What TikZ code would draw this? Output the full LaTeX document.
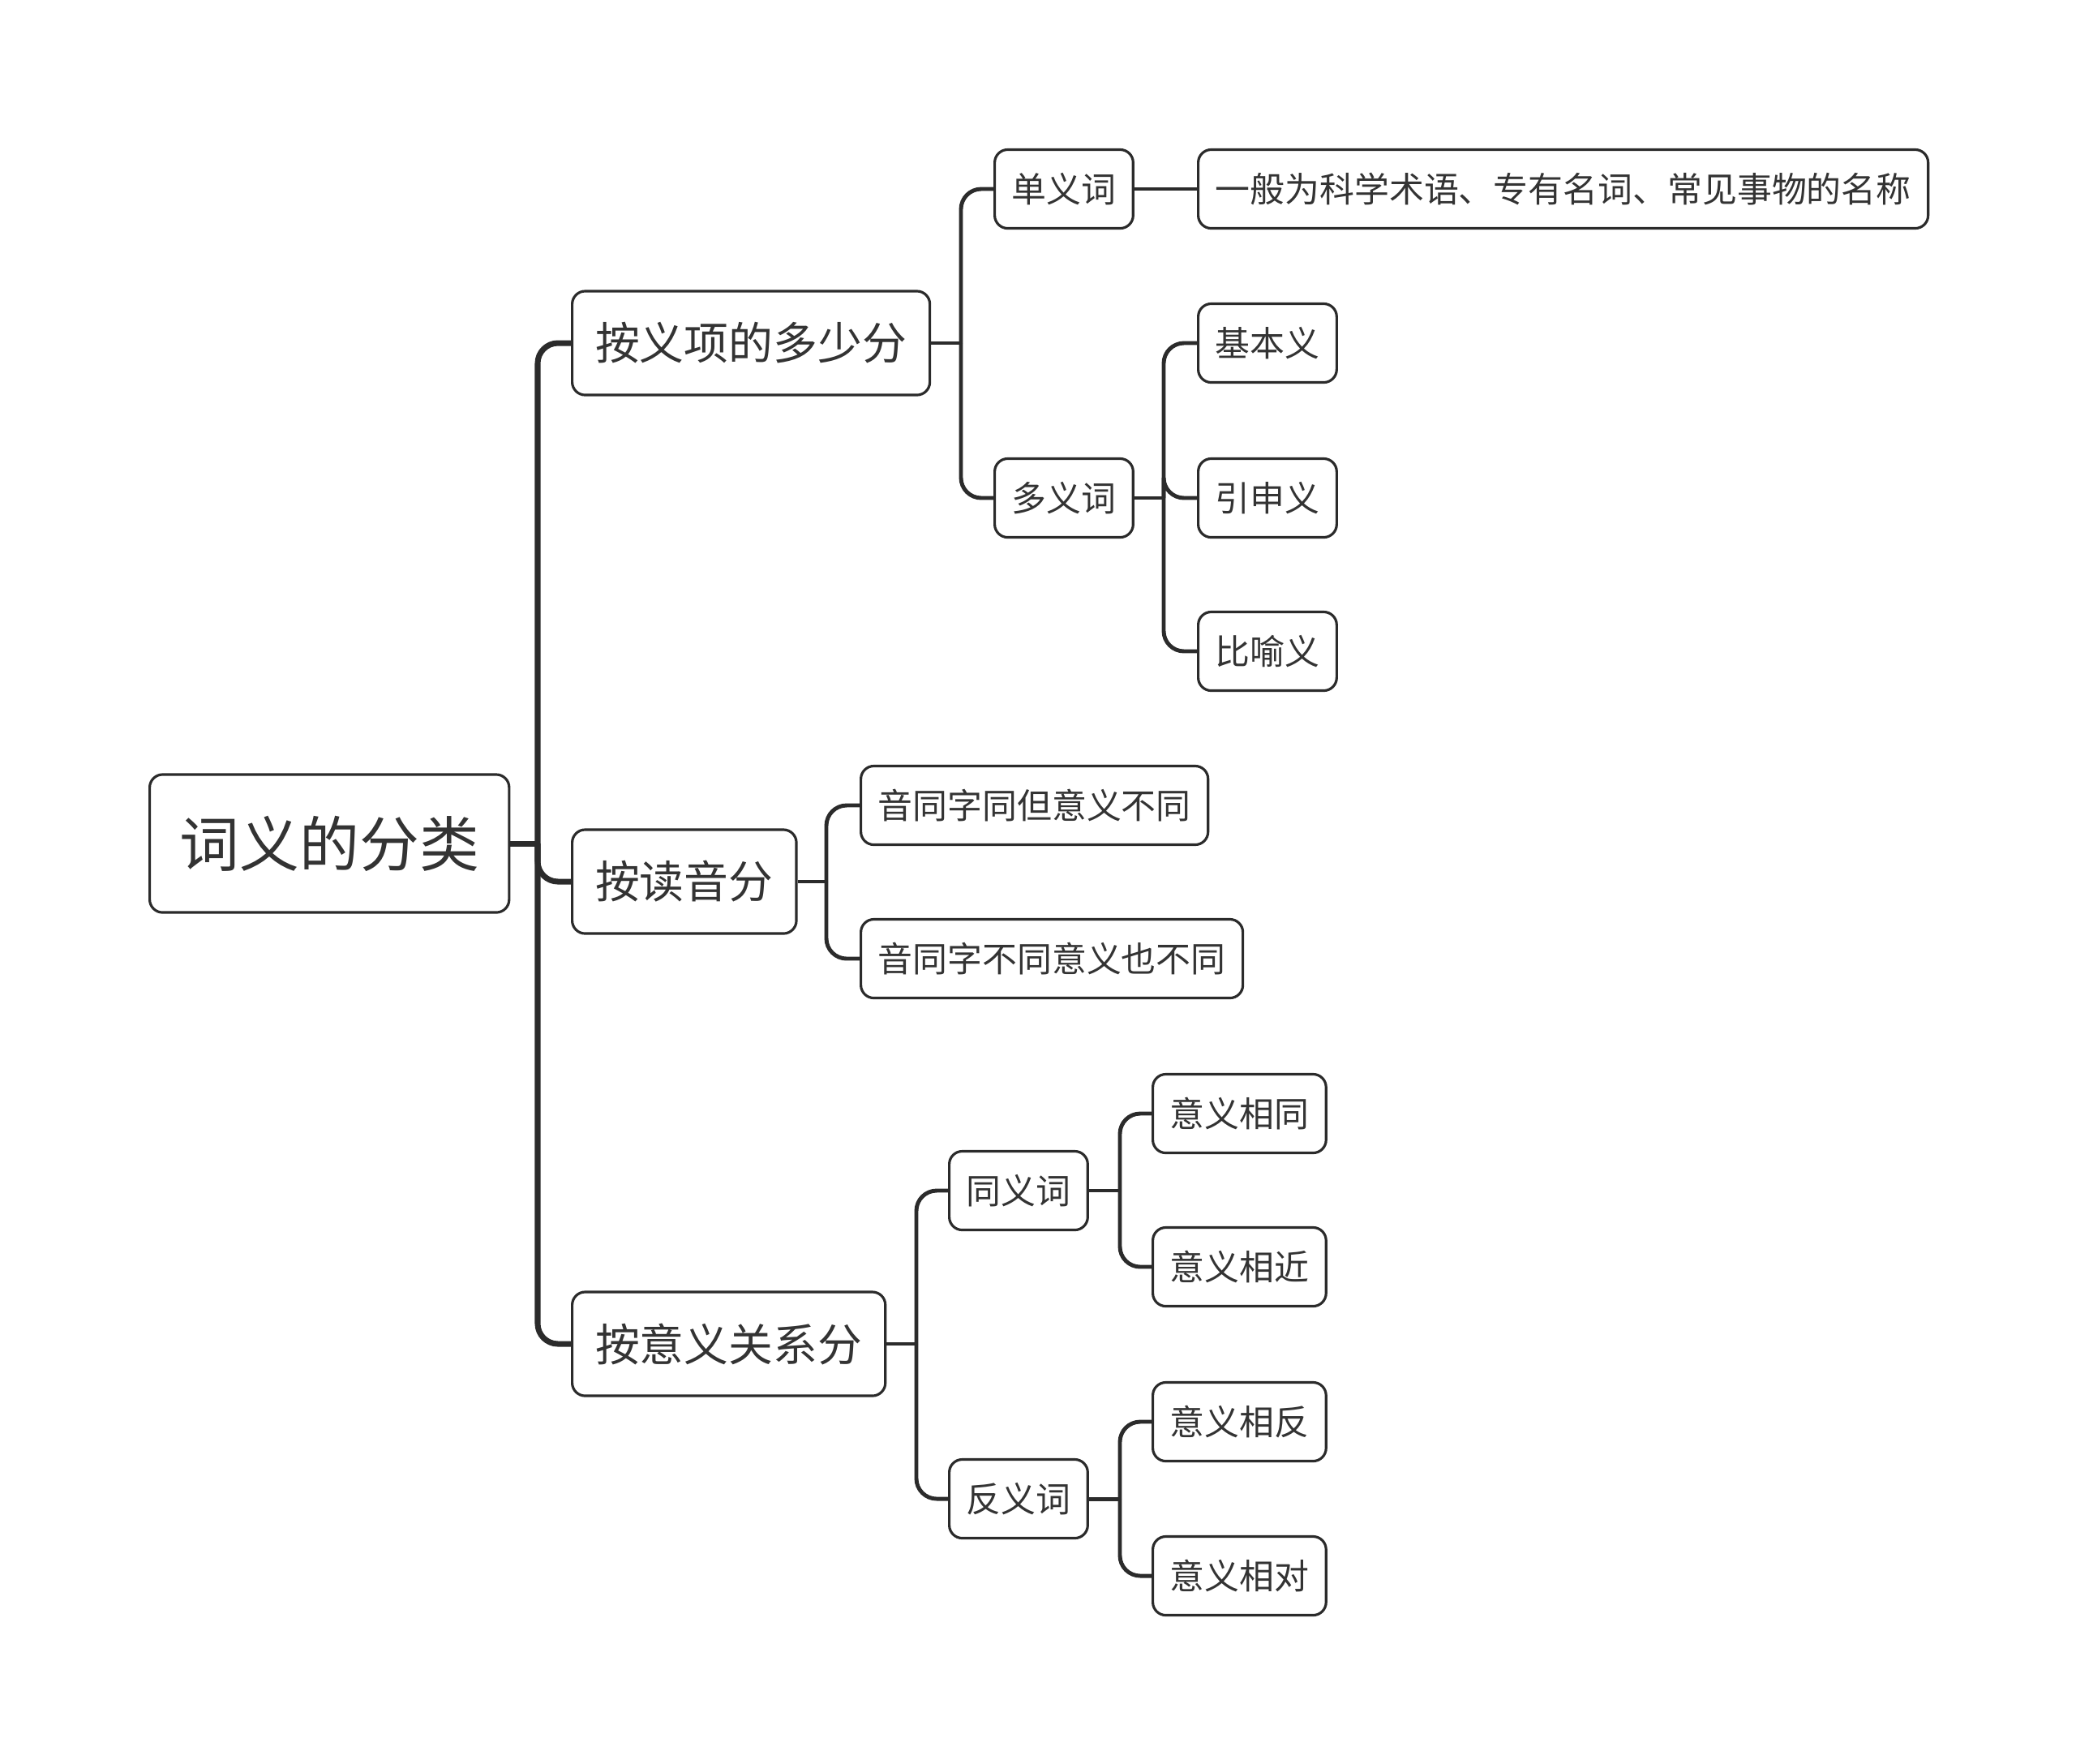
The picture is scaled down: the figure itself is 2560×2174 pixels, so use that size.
\documentclass[tikz,border=0pt]{standalone}
\usepackage{fontspec}
\setmainfont{Noto Sans CJK SC}
\definecolor{xian}{HTML}{2B2B2B}
\definecolor{zi}{HTML}{333333}
\tikzset{
  kuang/.style={draw=xian, line width=0.9pt, rounded corners=1.6mm, fill=white, text=zi, anchor=west},
  gen/.style={kuang, font=\fontsize{21}{25}\selectfont, minimum height=1.7cm, inner xsep=3.7mm},
  yi/.style={kuang, font=\fontsize{15.6}{19}\selectfont, minimum height=1.28cm, inner xsep=2.85mm},
  er/.style={kuang, font=\fontsize{12.2}{15}\selectfont, minimum height=0.97cm, inner xsep=2.1mm},
  cu/.style={draw=xian, line width=2pt},
  xi/.style={draw=xian, line width=1.4pt},
  wan/.style={rounded corners=2.5mm},
}

\begin{document}
\begin{tikzpicture}[x=0.01cm, y=-0.01cm]
  \useasboundingbox (0,0) rectangle (2560,2174);
  % nodes
  \node[gen] (root) at (183,1040) {词义的分类};
  \node[yi] (xiang) at (704,423) {按义项的多少分};
  \node[yi] (yin) at (704,1087) {按读音分};
  \node[yi] (guanxi) at (704,1657) {按意义关系分};
  \node[er] (dan) at (1225,233) {单义词};
  \node[er] (duo) at (1225,614) {多义词};
  \node[er] (mingcheng) at (1476,233) {一般为科学术语、专有名词、常见事物的名称};
  \node[er] (jiben) at (1476,423) {基本义};
  \node[er] (yinshen) at (1476,614) {引申义};
  \node[er] (biyu) at (1476,803) {比喻义};
  \node[er] (tongzi) at (1060,993) {音同字同但意义不同};
  \node[er] (butongzi) at (1060,1182) {音同字不同意义也不同};
  \node[er] (tongyi) at (1169,1468) {同义词};
  \node[er] (fanyi) at (1169,1848) {反义词};
  \node[er] (xiangtong) at (1420,1373) {意义相同};
  \node[er] (xiangjin) at (1420,1562) {意义相近};
  \node[er] (xiangfan) at (1420,1753) {意义相反};
  \node[er] (xiangdui) at (1420,1943) {意义相对};
  % branches
  \coordinate (j0) at (663,1040);
  \coordinate (j1) at (1185,423);
  \coordinate (j2) at (1019,1087);
  \coordinate (j3) at (1130,1657);
  \coordinate (j4) at (1435,614);
  \coordinate (j5) at (1381,1468);
  \coordinate (j6) at (1381,1848);
  \draw[cu] (root.east) -- (j0);
  \foreach \c in {xiang,yin,guanxi}
    \draw[cu, wan] (j0) |- (\c.west);
  \draw[xi] (xiang.east) -- (j1);
  \foreach \c in {dan,duo}
    \draw[xi, wan] (j1) |- (\c.west);
  \draw[xi] (dan.east) -- (mingcheng.west);
  \draw[xi] (duo.east) -- (j4);
  \foreach \c in {jiben,yinshen,biyu}
    \draw[xi, wan] (j4) |- (\c.west);
  \draw[xi] (yin.east) -- (j2);
  \foreach \c in {tongzi,butongzi}
    \draw[xi, wan] (j2) |- (\c.west);
  \draw[xi] (guanxi.east) -- (j3);
  \foreach \c in {tongyi,fanyi}
    \draw[xi, wan] (j3) |- (\c.west);
  \draw[xi] (tongyi.east) -- (j5);
  \foreach \c in {xiangtong,xiangjin}
    \draw[xi, wan] (j5) |- (\c.west);
  \draw[xi] (fanyi.east) -- (j6);
  \foreach \c in {xiangfan,xiangdui}
    \draw[xi, wan] (j6) |- (\c.west);
\end{tikzpicture}
\end{document}
